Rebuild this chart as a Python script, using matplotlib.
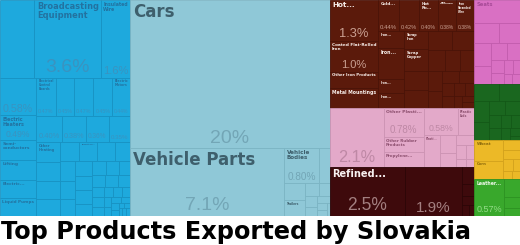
import matplotlib
matplotlib.use("Agg")
import matplotlib.pyplot as plt
from matplotlib.patches import Rectangle

# ------------------------------------------------------------------ data
# Machines
mach_top_names = ["", "Broadcasting\nEquipment", "Insulated\nWire"]
mach_top_vals = [1.8, 3.5, 1.55]
mach_top_pct = ["", "3.6%", "1.6%"]

mach_left_names = ["", "Electric\nHeaters", "Semi-\nconductors", "Lifting", "Electric...", "Liquid Pumps"]
mach_left_vals = [0.92, 0.61, 0.49, 0.49, 0.44, 0.44]
mach_left_pct = ["0.58%", "0.49%", "", "", "", ""]

mach_row1_names = ["Electrical\nControl\nBoards", "", "", "", "Electric\nMotors"]
mach_row1_vals = [0.50, 0.48, 0.50, 0.48, 0.47]
mach_row1_pct = ["0.47%", "0.45%", "0.47%", "0.45%", "0.44%"]

mach_rest_names = ["", "", "", "", "Other\nHeating", "", "", "", "", "Industrial..."]
mach_rest_vals = [0.45, 0.43, 0.40, 0.38, 0.33, 0.31, 0.29, 0.27, 0.26, 0.24,
                  0.23, 0.21, 0.20, 0.19, 0.18, 0.17, 0.16, 0.15, 0.14, 0.13,
                  0.12, 0.11, 0.10, 0.10, 0.09, 0.08, 0.08, 0.07, 0.07, 0.06,
                  0.06, 0.05, 0.05, 0.04, 0.04, 0.03, 0.03, 0.02, 0.02, 0.02,
                  0.02, 0.02]
mach_rest_pct = ["0.40%", "0.38%", "0.36%", "0.35%"]

# Transportation
cars_names = ["Cars"]
cars_vals = [20.0]
cars_pct = ["20%"]

parts_names = ["Vehicle Parts"]
parts_vals = [7.1]
parts_pct = ["7.1%"]

tr_top_names = ["Vehicle\nBodies", ""]
tr_top_vals = [0.81, 0.26]
tr_top_pct = ["0.80%", ""]

tr_left_names = ["", "Trailers"]
tr_left_vals = [0.24, 0.23]

tr_rest_vals = [0.12, 0.10, 0.08, 0.07, 0.06, 0.05, 0.04, 0.02]

# Metals
met_left_names = ["Hot...", "Coated Flat-Rolled\nIron", "Other Iron Products", "Metal Mountings"]
met_left_vals = [1.35, 1.0, 0.55, 0.65]
met_left_pct = ["1.3%", "1.0%", "", ""]

met_top_names = ["Cold...", "", "Hot\nRo...", "Raw\nAluminium", "Iron\nStranded\nWire"]
met_top_vals = [0.44, 0.42, 0.40, 0.38, 0.38]
met_top_pct = ["0.44%", "0.42%", "0.40%", "0.38%", "0.38%"]

met_a_names = ["Iron...", "Iron...", "Iron...", "Iron..."]
met_a_vals = [0.30, 0.55, 0.25, 0.27]

met_b_names = ["Scrap\nIron", "Scrap\nCopper", "", ""]
met_b_vals = [0.30, 0.35, 0.30, 0.30]

met_rest_vals = [0.30, 0.28, 0.25, 0.22, 0.20, 0.18, 0.16, 0.14,
                 0.12, 0.11, 0.10, 0.09, 0.08, 0.07, 0.05, 0.05]

# Plastics / rubbers
pl_big_vals = [2.15]
pl_big_pct = ["2.1%"]

pl_a_names = ["Other Plasti...", "Other Rubber\nProducts", "Propylene..."]
pl_a_vals = [0.78, 0.42, 0.40]
pl_a_pct = ["0.78%", "", ""]

pl_btop_names = ["", "Plastic\nLids"]
pl_btop_vals = [0.62, 0.30]
pl_btop_pct = ["0.58%", ""]

pl_bbot_names = ["Plasti..."]
pl_bbot_vals = [0.35, 0.20, 0.15, 0.12, 0.10, 0.08, 0.05, 0.04]

# Mineral products
min_names = ["Refined...", "", ""]
min_vals = [2.5, 1.9]
min_pct = ["2.5%", "1.9%"]
min_rest_vals = [0.15, 0.10, 0.08, 0.05, 0.04]

# Right column groups
mag_names = ["Seats"]
mag_vals = [0.70, 0.35, 0.30, 0.25, 0.20, 0.18, 0.15, 0.12, 0.10, 0.08, 0.07, 0.05, 0.05]
dg_vals = [0.30, 0.25, 0.20, 0.18, 0.15, 0.13, 0.12, 0.10, 0.09, 0.08, 0.07, 0.05, 0.03]
yel_names = ["Wheat", "Corn"]
yel_vals = [0.40, 0.35, 0.12, 0.10, 0.08, 0.06, 0.05, 0.04]
grn_names = ["Leather..."]
grn_vals = [0.75, 0.20, 0.12, 0.09]
grn_pct = ["0.57%"]

title_text = "Top Products Exported by Slovakia"

# ------------------------------------------------------------------ styles
ST = {
    "mach": dict(face="#1ea9dd", edge="#1792c3", name="#2372a0", pct="#3a93c0"),
    "tran": dict(face="#8fc8d7", edge="#7bb4c3", name="#3e5f6c", pct="#73a6b6"),
    "met": dict(face="#5b1a0b", edge="#4a1207", name="#f7eeea", pct="#caa092"),
    "pl": dict(face="#e3a9c9", edge="#cc93b3", name="#8c4f6e", pct="#be88a5"),
    "min": dict(face="#3e0a0c", edge="#2c0506", name="#f7f0f0", pct="#a37f80"),
    "mag": dict(face="#d970c3", edge="#c25cad", name="#a84a98", pct="#a84a98"),
    "dg": dict(face="#1a671f", edge="#125816", name="#cfe8cf", pct="#6fae70"),
    "yel": dict(face="#ecb927", edge="#d3a21b", name="#8c6a0c", pct="#a88315"),
    "grn": dict(face="#39a82c", edge="#2c9321", name="#eef8ea", pct="#93dc88"),
}
LABEL_FONT = ["Liberation Sans Narrow", "DejaVu Sans"]
PCT_FONT = ["Liberation Sans", "DejaVu Sans"]

FIG_W, FIG_H = 520, 245
TM_H = 216

fig = plt.figure(figsize=(FIG_W / 100, FIG_H / 100), dpi=100)
fig.patch.set_facecolor("white")
ax = fig.add_axes([0, 1 - TM_H / FIG_H, 1, TM_H / FIG_H])
ax.set_xlim(0, FIG_W)
ax.set_ylim(TM_H, 0)
ax.axis("off")
renderer = fig.canvas.get_renderer()


# ------------------------------------------------------------------ layout helpers
def slice_rect(rect, vals, horizontal):
    x, y, w, h = rect
    tot = float(sum(vals))
    out = []
    for v in vals:
        if horizontal:
            ww = w * v / tot
            out.append((x, y, ww, h))
            x += ww
        else:
            hh = h * v / tot
            out.append((x, y, w, hh))
            y += hh
    return out


def squarify(rect, vals):
    x, y, w, h = rect
    tot = float(sum(vals))
    areas = [v * w * h / tot for v in vals]
    out = []

    def worst(row, side):
        s = sum(row)
        return max(max(side * side * r / (s * s), s * s / (side * side * r)) for r in row)

    i = 0
    while i < len(areas):
        side = min(w, h)
        row = [areas[i]]
        i += 1
        while i < len(areas) and worst(row + [areas[i]], side) <= worst(row, side):
            row.append(areas[i])
            i += 1
        s = sum(row)
        if w >= h:
            cw = s / h
            yy = y
            for r in row:
                rh = r / cw
                out.append((x, yy, cw, rh))
                yy += rh
            x += cw
            w -= cw
        else:
            rh = s / w
            xx = x
            for r in row:
                rw = r / rh
                out.append((xx, y, rw, rh))
                xx += rw
            y += rh
            h -= rh
    return out


def fit(t, maxw, maxh):
    bb = t.get_window_extent(renderer)
    if bb.width <= 0 or bb.height <= 0:
        return
    s = min(1.0, max(maxw, 1) / bb.width, max(maxh, 1) / bb.height)
    if s < 1.0:
        t.set_fontsize(t.get_fontsize() * s)


def draw(rects, vals, st, names=(), pcts=()):
    for i, (r, v) in enumerate(zip(rects, vals)):
        x, y, w, h = r
        ax.add_patch(Rectangle((x, y), w, h, facecolor=st["face"],
                               edgecolor=st["edge"], linewidth=0.6))
        nm = names[i] if i < len(names) else ""
        pc = pcts[i] if i < len(pcts) else ""
        if nm:
            fs = min(12.0, 4.5 * v ** 0.5)
            pad = 2.0 + 0.1 * fs
            t = ax.text(x + pad, y + pad * 0.8, nm, fontsize=fs, fontweight="bold",
                        color=st["name"], ha="left", va="top", family=LABEL_FONT,
                        linespacing=1.0)
            fit(t, w - 2 * pad, h - 2 * pad)
        if pc:
            fs = min(14.0, 8.0 * v ** 0.5)
            t = ax.text(x + w / 2, y + h - 1.5, pc, fontsize=fs, color=st["pct"],
                        ha="center", va="bottom", family=PCT_FONT)
            fit(t, w - 4, h * 0.6)


# ------------------------------------------------------------------ build
mach_total = sum(mach_top_vals) + sum(mach_left_vals) + sum(mach_row1_vals) + sum(mach_rest_vals)
tr_right = sum(tr_top_vals) + sum(tr_left_vals) + sum(tr_rest_vals)
tran_total = sum(cars_vals) + sum(parts_vals) + tr_right
met_right = sum(met_top_vals) + sum(met_a_vals) + sum(met_b_vals) + sum(met_rest_vals)
met_total = sum(met_left_vals) + met_right
pl_b = sum(pl_btop_vals) + sum(pl_bbot_vals)
pl_total = sum(pl_big_vals) + sum(pl_a_vals) + pl_b
min_total = sum(min_vals) + sum(min_rest_vals)
colc_total = met_total + pl_total + min_total
cold_vals = [sum(mag_vals), sum(dg_vals), sum(yel_vals), sum(grn_vals)]
cold_total = sum(cold_vals)

col_mach, col_tran, col_c, col_d = slice_rect((0, 0, FIG_W, TM_H),
                                              [mach_total, tran_total, colc_total, cold_total], True)

# machines
m_top, m_low = slice_rect(col_mach, [sum(mach_top_vals), mach_total - sum(mach_top_vals)], False)
draw(slice_rect(m_top, mach_top_vals, True), mach_top_vals, ST["mach"], mach_top_names, mach_top_pct)
m_left, m_right = slice_rect(m_low, [sum(mach_left_vals), sum(mach_row1_vals) + sum(mach_rest_vals)], True)
draw(slice_rect(m_left, mach_left_vals, False), mach_left_vals, ST["mach"], mach_left_names, mach_left_pct)
m_r1, m_rest = slice_rect(m_right, [sum(mach_row1_vals), sum(mach_rest_vals)], False)
draw(slice_rect(m_r1, mach_row1_vals, True), mach_row1_vals, ST["mach"], mach_row1_names, mach_row1_pct)
draw(squarify(m_rest, mach_rest_vals), mach_rest_vals, ST["mach"], mach_rest_names, mach_rest_pct)

# transportation
t_cars, t_bot = slice_rect(col_tran, [sum(cars_vals), tran_total - sum(cars_vals)], False)
draw([t_cars], cars_vals, ST["tran"], cars_names, cars_pct)
t_parts, t_right = slice_rect(t_bot, [sum(parts_vals), tr_right], True)
draw([t_parts], parts_vals, ST["tran"], parts_names, parts_pct)
t_rtop, t_rlow = slice_rect(t_right, [sum(tr_top_vals), tr_right - sum(tr_top_vals)], False)
draw(slice_rect(t_rtop, tr_top_vals, True), tr_top_vals, ST["tran"], tr_top_names, tr_top_pct)
t_ll, t_lr = slice_rect(t_rlow, [sum(tr_left_vals), sum(tr_rest_vals)], True)
draw(slice_rect(t_ll, tr_left_vals, False), tr_left_vals, ST["tran"], tr_left_names)
draw(squarify(t_lr, tr_rest_vals), tr_rest_vals, ST["tran"])

# column C
c_met, c_pl, c_min = slice_rect(col_c, [met_total, pl_total, min_total], False)
mt_left, mt_right = slice_rect(c_met, [sum(met_left_vals), met_right], True)
draw(slice_rect(mt_left, met_left_vals, False), met_left_vals, ST["met"], met_left_names, met_left_pct)
mt_top, mt_low = slice_rect(mt_right, [sum(met_top_vals), met_right - sum(met_top_vals)], False)
draw(slice_rect(mt_top, met_top_vals, True), met_top_vals, ST["met"], met_top_names, met_top_pct)
mt_a, mt_b, mt_rest = slice_rect(mt_low, [sum(met_a_vals), sum(met_b_vals), sum(met_rest_vals)], True)
draw(slice_rect(mt_a, met_a_vals, False), met_a_vals, ST["met"], met_a_names)
draw(slice_rect(mt_b, met_b_vals, False), met_b_vals, ST["met"], met_b_names)
draw(squarify(mt_rest, met_rest_vals), met_rest_vals, ST["met"])

p_big, p_a, p_b = slice_rect(c_pl, [sum(pl_big_vals), sum(pl_a_vals), pl_b], True)
draw([p_big], pl_big_vals, ST["pl"], (), pl_big_pct)
draw(slice_rect(p_a, pl_a_vals, False), pl_a_vals, ST["pl"], pl_a_names, pl_a_pct)
p_bt, p_bb = slice_rect(p_b, [sum(pl_btop_vals), sum(pl_bbot_vals)], False)
draw(slice_rect(p_bt, pl_btop_vals, True), pl_btop_vals, ST["pl"], pl_btop_names, pl_btop_pct)
draw(squarify(p_bb, pl_bbot_vals), pl_bbot_vals, ST["pl"], pl_bbot_names)

mn = slice_rect(c_min, min_vals + [sum(min_rest_vals)], True)
draw(mn[:2], min_vals, ST["min"], min_names, min_pct)
draw(squarify(mn[2], min_rest_vals), min_rest_vals, ST["min"])

# column D
d_mag, d_dg, d_yel, d_grn = slice_rect(col_d, cold_vals, False)
draw(squarify(d_mag, mag_vals), mag_vals, ST["mag"], mag_names)
draw(squarify(d_dg, dg_vals), dg_vals, ST["dg"])
draw(squarify(d_yel, yel_vals), yel_vals, ST["yel"], yel_names)
draw(squarify(d_grn, grn_vals), grn_vals, ST["grn"], grn_names, grn_pct)

# title
tt = fig.text(0.002, 6 / FIG_H, title_text, fontsize=17, fontweight="bold",
              family=["DejaVu Sans"], color="black", ha="left", va="baseline")
bb = tt.get_window_extent(renderer)
tt.set_fontsize(17 * 471 / bb.width)

fig.savefig("out.png", dpi=100, facecolor="white")
